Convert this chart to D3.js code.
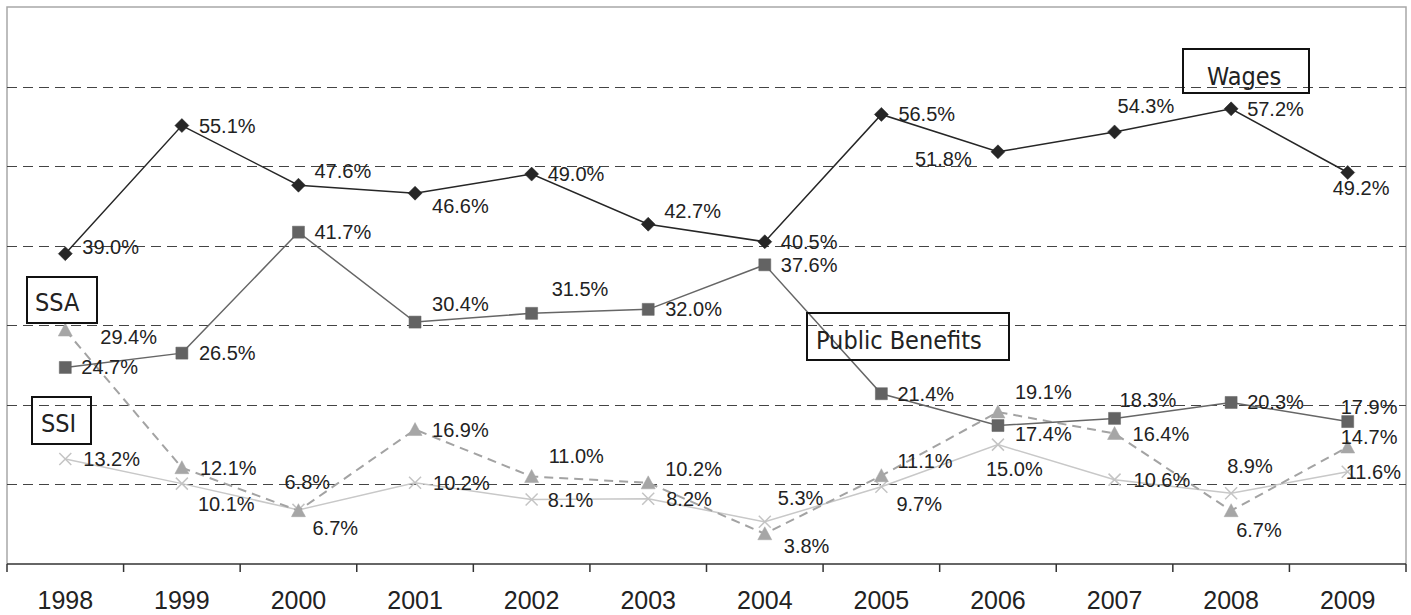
<!DOCTYPE html>
<html><head><meta charset="utf-8">
<script src="https://cdn.jsdelivr.net/npm/d3@7"></script>
<style>
html,body{margin:0;padding:0;background:#fff;}
svg{display:block;}
</style></head>
<body>
<svg id="chart" width="1411" height="615"></svg>
<script>
// ---- data ----
const years = ["1998","1999","2000","2001","2002","2003","2004","2005","2006","2007","2008","2009"];
const wages = [39.0,55.1,47.6,46.6,49.0,42.7,40.5,56.5,51.8,54.3,57.2,49.2];
const publicBenefits = [24.7,26.5,41.7,30.4,31.5,32.0,37.6,21.4,17.4,18.3,20.3,17.9];
const ssa = [29.4,12.1,6.7,16.9,11.0,10.2,3.8,11.1,19.1,16.4,6.7,14.7];
const ssi = [13.2,10.1,6.8,10.2,8.1,8.2,5.3,9.7,15.0,10.6,8.9,11.6];
const gridValues = [10,20,30,40,50,60];
const seriesNames = ["Wages","Public Benefits","SSA","SSI"];

// ---- label placement (style, kept apart from data) ----
const wagesLabelOff = [[17,-7],[17,0],[16,-14],[17,13],[16,0],[16,-13],[16,0],[17,0],[-83,7],[3,-26],[16,0],[-15,15]];
const pbLabelOff = [[16,0],[17,0],[16,0],[17,-18],[20,-24],[17,0],[16,0],[16,0],[17,8],[5,-18],[16,0],[-7,-15]];
const ssaLabelOff = [[35,7],[18,0],[14,17],[17,0],[17,-20],[17,-14],[19,12],[16,-15],[17,-20],[18,0],[5,19],[-7,-10]];
const ssiLabelOff = [[18,0],[16,20],[-14,-28],[18,0],[16,0],[18,0],[13,-24],[15,17],[-12,24],[19,0],[-4,-27],[-2,0]];

const svg = d3.select("#chart");
const L = 7, R = 1406, T = 7, B = 564;

const x = d3.scaleBand().domain(years).range([L, R]).padding(0);
const y = d3.scaleLinear().domain([0, 70]).range([B, T]);
const cx = d => x(d) + x.bandwidth() / 2;

// frame (left, top, right)
svg.append("path")
  .attr("d", `M${L},${B}V${T}H${R}V${B}`)
  .attr("fill", "none").attr("stroke", "#a8a8a8").attr("stroke-width", 1.5);

// gridlines
svg.append("g").selectAll("line").data(gridValues).join("line")
  .attr("x1", L).attr("x2", R)
  .attr("y1", d => Math.round(y(d)) + 0.5).attr("y2", d => Math.round(y(d)) + 0.5)
  .attr("stroke", "#444").attr("stroke-width", 1).attr("stroke-dasharray", "10,6");

// x axis
const xAxis = d3.axisBottom(x).tickSize(0).tickPadding(0);
const ax = svg.append("g").attr("transform", `translate(0,${B})`).call(xAxis);
ax.select(".domain").attr("stroke", "#333").attr("stroke-width", 1.5).attr("d", `M${L},0H${R}`);
ax.selectAll("text")
  .attr("font-family", "'Liberation Sans', Arial, sans-serif")
  .attr("font-size", 25).attr("fill", "#222")
  .attr("y", 45).attr("dy", null);
// category boundary ticks
const bounds = years.map(d => x(d)).concat([R]);
svg.append("g").selectAll("line").data(bounds).join("line")
  .attr("x1", d => d).attr("x2", d => d)
  .attr("y1", B).attr("y2", B + 8)
  .attr("stroke", "#333").attr("stroke-width", 1.5);

// series definitions
const series = [
  {name: seriesNames[3], values: ssi, color: "#c8c8c8", width: 1.5, dash: null, marker: "x", mcolor: "#c4c4c4", off: ssiLabelOff},
  {name: seriesNames[2], values: ssa, color: "#a3a3a3", width: 2, dash: "9,6", marker: "tri", mcolor: "#a6a6a6", off: ssaLabelOff},
  {name: seriesNames[1], values: publicBenefits, color: "#666", width: 1.5, dash: null, marker: "sq", mcolor: "#636363", off: pbLabelOff},
  {name: seriesNames[0], values: wages, color: "#262626", width: 1.5, dash: null, marker: "dia", mcolor: "#262626", off: wagesLabelOff}
];

const line = d3.line().x((d, i) => cx(years[i])).y(d => y(d));

series.forEach(s => {
  svg.append("path").datum(s.values)
    .attr("d", line).attr("fill", "none")
    .attr("stroke", s.color).attr("stroke-width", s.width)
    .attr("stroke-dasharray", s.dash);
});

function markerPath(type) {
  if (type === "dia") return "M0,-7L7,0L0,7L-7,0Z";
  if (type === "sq") return "M-6,-6H6V6H-6Z";
  if (type === "tri") return "M0,-7L7,6H-7Z";
  return "M-6,-6L6,6M-6,6L6,-6";
}

series.forEach(s => {
  const g = svg.append("g");
  g.selectAll("path").data(s.values).join("path")
    .attr("transform", (d, i) => `translate(${cx(years[i])},${y(d)})`)
    .attr("d", markerPath(s.marker))
    .attr("fill", s.marker === "x" ? "none" : s.mcolor)
    .attr("stroke", s.mcolor)
    .attr("stroke-width", s.marker === "x" ? 1.5 : 0.5);
});

// data labels
series.forEach(s => {
  svg.append("g").selectAll("text").data(s.values).join("text")
    .attr("x", (d, i) => cx(years[i]) + s.off[i][0])
    .attr("y", (d, i) => y(d) + s.off[i][1] + 7)
    .attr("font-family", "'Liberation Sans', Arial, sans-serif")
    .attr("font-size", 20).attr("fill", "#222")
    .text(d => d.toFixed(1) + "%");
});

// series name boxes
const boxes = [
  {text: seriesNames[0], x: 1183, y: 49, w: 126, h: 44, tx: 1207, ty: 85},
  {text: seriesNames[1], x: 807, y: 313, w: 202, h: 47, tx: 816, ty: 349},
  {text: seriesNames[2], x: 27, y: 277, w: 70, h: 46, tx: 35, ty: 311},
  {text: seriesNames[3], x: 32, y: 397, w: 59, h: 47, tx: 41, ty: 432}
];
const bg = svg.append("g");
bg.selectAll("rect").data(boxes).join("rect")
  .attr("x", d => d.x).attr("y", d => d.y).attr("width", d => d.w).attr("height", d => d.h)
  .attr("fill", "none").attr("stroke", "#111").attr("stroke-width", 2);
bg.selectAll("text").data(boxes).join("text")
  .attr("x", d => d.tx).attr("y", d => d.ty)
  .attr("font-family", "'DejaVu Sans Condensed', 'DejaVu Sans', sans-serif")
  .attr("font-stretch", "condensed")
  .attr("font-size", 25).attr("fill", "#222")
  .text(d => d.text);
</script>
</body></html>
